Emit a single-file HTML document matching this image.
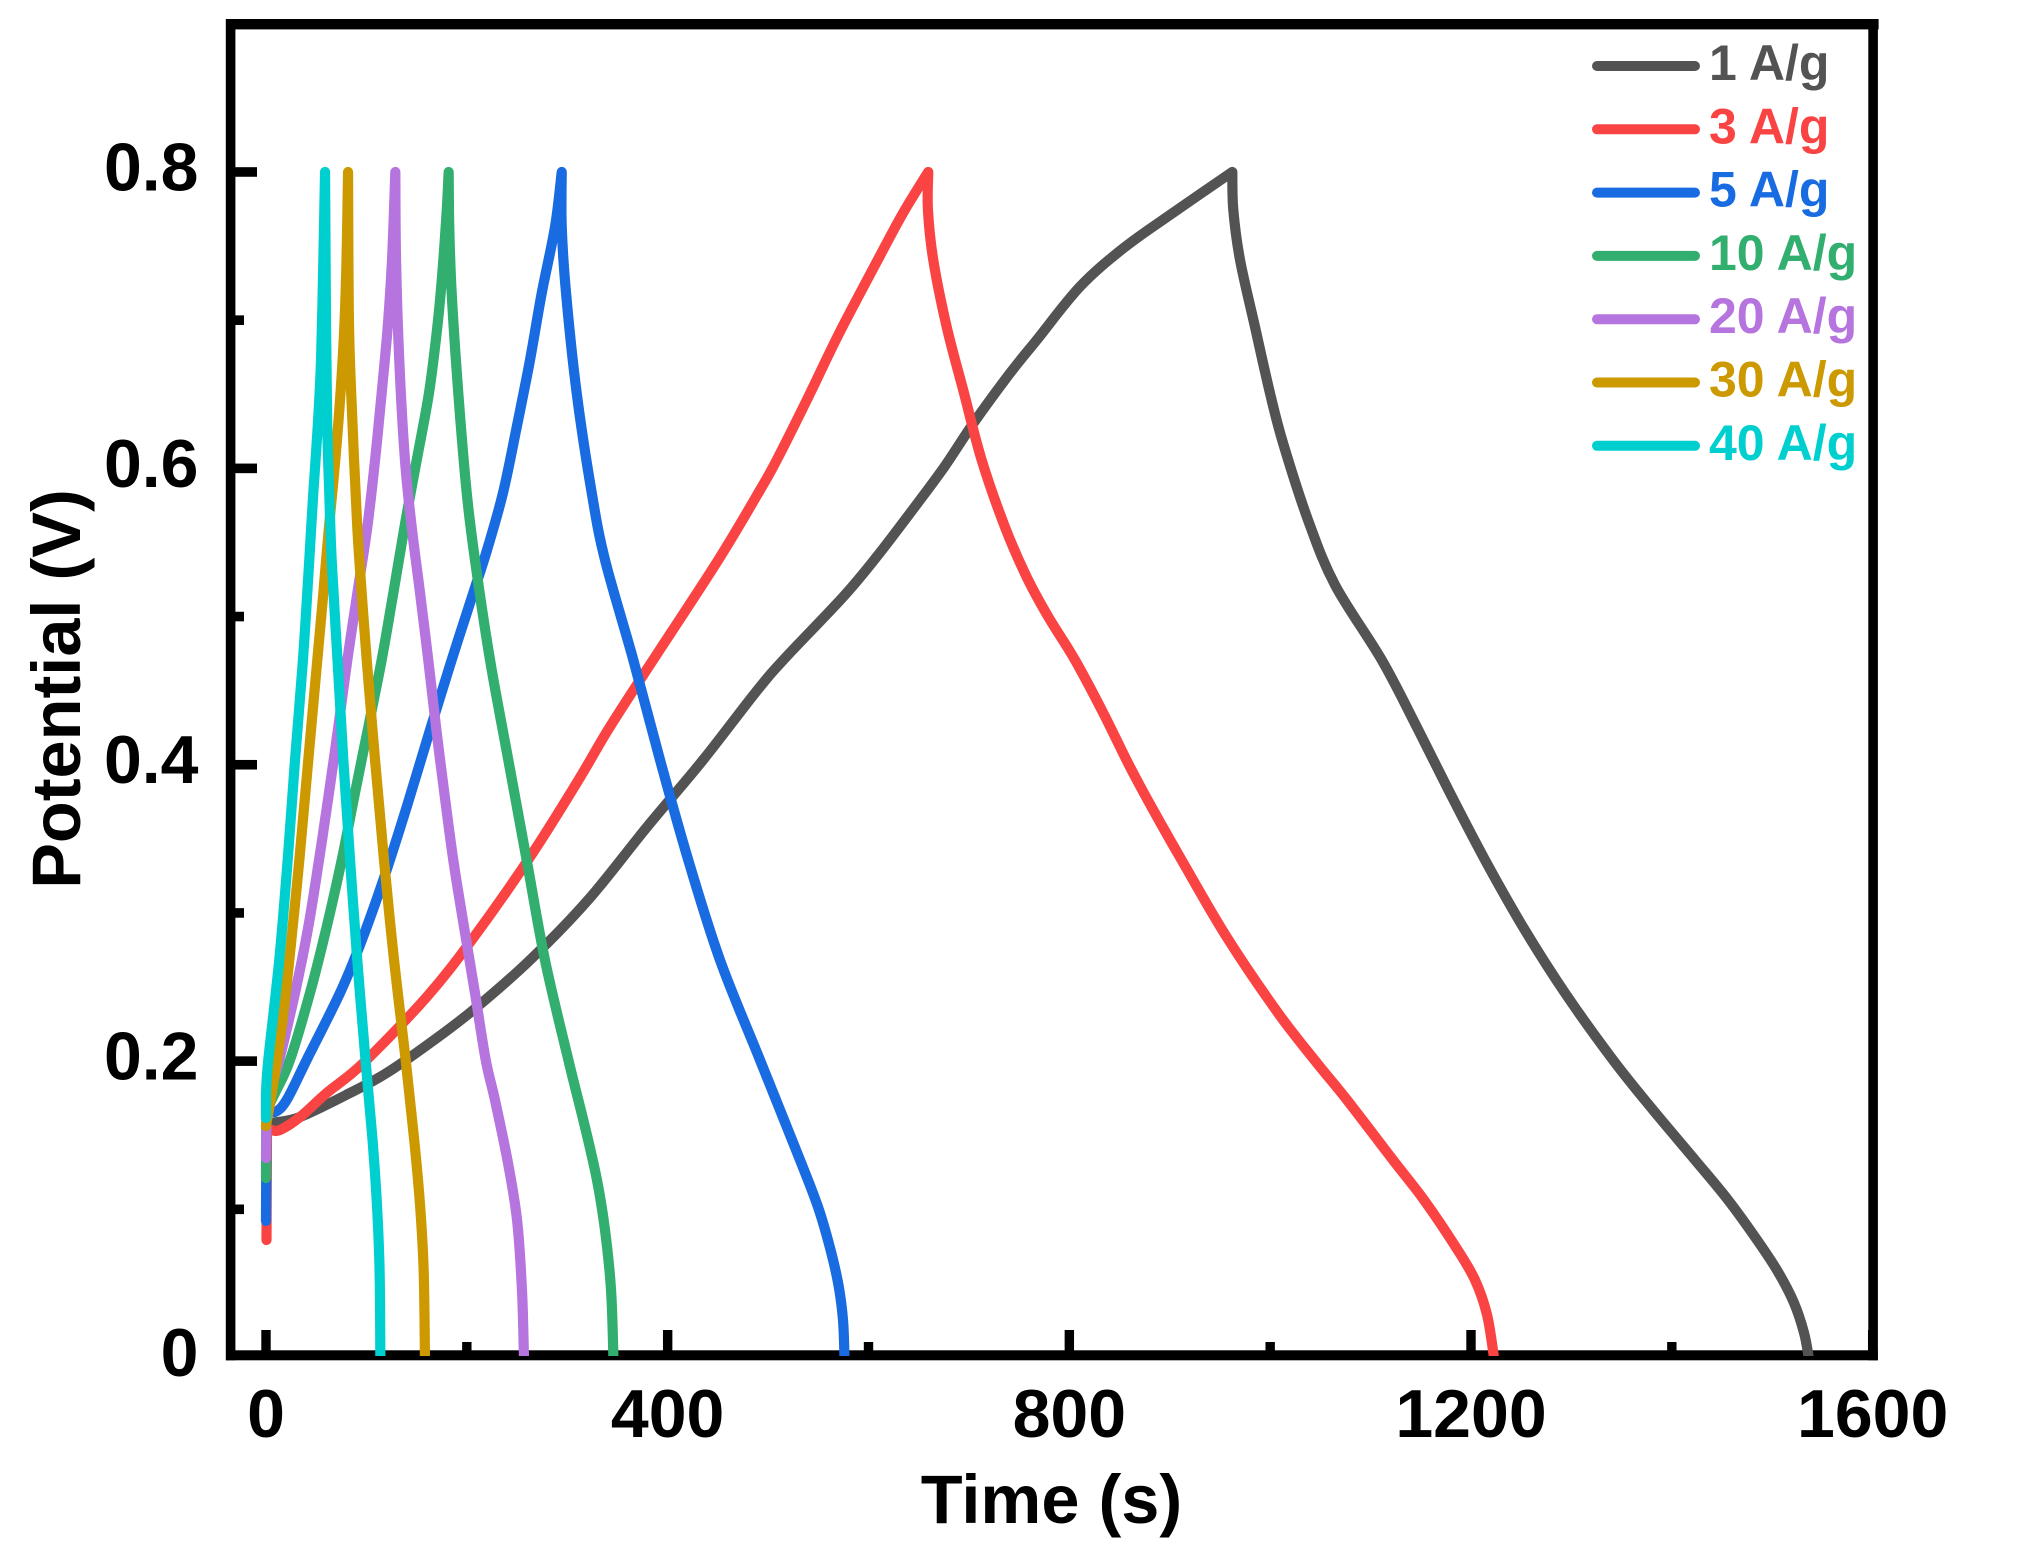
<!DOCTYPE html>
<html lang="en">
<head>
<meta charset="utf-8">
<title>Potential vs Time</title>
<style>
html,body{margin:0;padding:0;background:#fff;}
svg{display:block;}
text{font-family:"Liberation Sans",Arial,sans-serif;font-weight:bold;}
</style>
</head>
<body>
<svg id="chart" xmlns="http://www.w3.org/2000/svg" width="2040" height="1560" viewBox="0 0 2040 1560">
  <defs>
    <clipPath id="plot-clip"><rect x="0" y="0" width="2040" height="1356"/></clipPath>
  </defs>
  <rect x="0" y="0" width="2040" height="1560" fill="#fff"/>
  <g id="ticks"></g>
  <g id="frame" fill="#000">
    <rect x="226" y="19" width="1652.6" height="10.4"/>
    <rect x="226" y="1350.3" width="1651.8" height="10"/>
    <rect x="225.8" y="19" width="9.6" height="1341.3"/>
    <rect x="1868.3" y="19" width="9.6" height="1341.3"/>
  </g>
  <g id="tick-labels"></g>
  <text x="1051.5" y="1523" font-size="68.5" text-anchor="middle" fill="#000">Time (s)</text>
  <text transform="translate(80 689) rotate(-90)" font-size="68.5" text-anchor="middle" fill="#000">Potential (V)</text>
  <g id="series" clip-path="url(#plot-clip)"></g>
  <g id="legend"></g>
</svg>
<script>
// Axis data
const xMajorTicks = [0, 400, 800, 1200, 1600];
const xMinorTicks = [200, 600, 1000, 1400];
const xTickLabels = ["0", "400", "800", "1200", "1600"];
const yMajorTicks = [0.2, 0.4, 0.6, 0.8];
const yMinorTicks = [0.1, 0.3, 0.5, 0.7];
const yLabelValues = [0, 0.2, 0.4, 0.6, 0.8];
const yTickLabels = ["0", "0.2", "0.4", "0.6", "0.8"];

// Series names
const seriesNames = ["1 A/g", "3 A/g", "5 A/g", "10 A/g", "20 A/g", "30 A/g", "40 A/g"];

// 1 A/g
const time1 = [0,1,5.7,33.9,83.7,120.2,163.3,206.4,262.9,320.7,379.4,435.2,487,515.2,574.9,608.2,641.3,674.5,704.4,740.9,767.5,810.6,853.7,900.2,962.3,963.3,970,984.9,999.8,1012.8,1037.7,1064.6,1111.1,1146,1179.1,1214,1251.8,1293.6,1341.4,1381.3,1423.1,1456,1484.9,1505.8,1521.7,1531.7,1536.3];
const potential1 = [.1265,.1569,.1582,.1623,.1785,.192,.2122,.2345,.2682,.3087,.358,.4032,.4484,.4707,.5134,.5404,.5697,.6,.6304,.6642,.6866,.7226,.7485,.771,.8,.7743,.7406,.6954,.6508,.6171,.5651,.5213,.4707,.4255,.3809,.3357,.2905,.246,.2008,.167,.1333,.1063,.0793,.0577,.0368,.0165,0];

// 3 A/g
const time3 = [.5,1,5.7,13.9,33.9,60.4,96.9,160,206.4,262.9,309.4,339.3,369.2,387.4,450.4,492,508.6,540,569.9,606.5,634.4,659.5,659.2,664.5,677.9,695.1,712.7,735.9,757.5,779.1,805.6,833.8,860.4,883.6,913.5,956.7,1007.8,1046.6,1076.5,1122.3,1153.2,1184.8,1204,1216,1222.9];
const potential3 = [.0793,.1549,.1535,.1535,.1623,.1785,.1987,.2433,.2831,.3377,.3877,.4221,.4538,.4727,.5382,.5854,.6056,.6481,.69,.7372,.7723,.8,.7743,.7406,.6954,.6508,.6056,.5604,.5267,.4997,.4707,.4349,.3985,.3694,.3337,.2837,.2325,.1987,.1738,.1333,.1063,.0746,.0523,.0287,0];

// 5 A/g
const time5 = [0,.5,9,20.6,40.5,73.7,93.6,116.8,140.1,163.3,184.9,206.4,220.1,236,249.7,262.9,274.6,287.8,294.5,294.5,298.8,309.4,324.4,337.6,365.8,392.4,420.5,452.1,491.9,531.8,549.7,561.7,570.1,574.6,576.1];
const potential5 = [.0921,.1684,.1657,.1738,.2008,.246,.2784,.3222,.3715,.4234,.4707,.5159,.5449,.5834,.6279,.6731,.7183,.7629,.8,.7629,.7183,.6508,.5834,.5382,.4707,.4032,.3357,.2682,.2008,.1333,.1016,.0739,.0489,.0253,0];

// 10 A/g
const time10 = [0,.5,9,23.9,43.8,60.4,75.4,88.6,101.9,115.2,126.8,139.1,150.1,162.3,170.6,175.6,180,181.9,182.5,184.9,191.5,199.9,208.1,223.1,241.3,259.6,277.8,301.1,317.7,329.6,337.6,343.6,346];
const potential10 = [.1211,.167,.1785,.2008,.246,.2905,.3357,.3809,.4255,.4707,.5159,.5651,.6056,.6508,.6954,.7318,.7743,.8,.7629,.7183,.6508,.5834,.5382,.4707,.4032,.3357,.2682,.2008,.1555,.1198,.086,.0456,0];

// 20 A/g
const time20 = [0,.5,4,13.2,28.9,42.1,52.8,62.7,72,81,91,100.9,108.6,115.2,121.2,125.5,128.8,129.5,132.7,138.4,145.1,153.4,161.6,169.3,177.6,186.5,197.2,208.1,218.8,228,241,250,254.9,256.9];
const potential20 = [.1346,.1603,.1785,.2008,.246,.2905,.3357,.3809,.4255,.4707,.5159,.5604,.6056,.6508,.6954,.7406,.8,.7406,.6731,.6056,.5604,.5159,.4707,.4255,.3809,.3357,.2905,.246,.2008,.1738,.1312,.0928,.0456,0];

// 30 A/g
const time30 = [0,.2,5.7,15.6,23.2,33.2,42.1,51.1,57.1,62.7,69,74.2,78,80.2,81.7,82.7,86.3,90.9,95.3,100.3,108.6,117.5,127.5,139.1,147.6,153.4,157,158.3];
const potential30 = [.1562,.1575,.1785,.223,.2682,.3357,.4032,.4707,.5159,.5604,.6056,.6508,.6954,.7406,.8,.6954,.6279,.5604,.5159,.4707,.4032,.3357,.2682,.2008,.1468,.1029,.059,0];

// 40 A/g
const time40 = [0,0,2.3,13.2,21.6,28.9,36.8,43.1,47.1,51.5,54.8,57.1,58.8,59.8,61,63,65.4,71.2,77,83.7,90.9,99.1,106.1,110.5,113.1,113.9];
const potential40 = [.1616,.1785,.2008,.2682,.3357,.4032,.4707,.5382,.5834,.6279,.6731,.7406,.8,.6954,.6279,.5834,.5382,.4707,.4032,.3357,.2682,.2008,.1468,.1029,.059,0];

const allTimes = [time1, time3, time5, time10, time20, time30, time40];
const allPotentials = [potential1, potential3, potential5, potential10, potential20, potential30, potential40];

// Styling
const seriesColors = ["#535353", "#FA4444", "#186BE0", "#32AE6E", "#B574DE", "#CC9900", "#00CFD0"];

// Axis functions
function xScale(t) { return 266 + 1.00417 * t; }
function yScale(v) { return 1357.5 - 1481.9 * v; }

const NS = "http://www.w3.org/2000/svg";
function fmt(n) { return n.toFixed(2); }

function smoothSegment(pts) {
  let d = "";
  for (let i = 0; i < pts.length - 1; i++) {
    const p0 = pts[Math.max(i - 1, 0)];
    const p1 = pts[i];
    const p2 = pts[i + 1];
    const p3 = pts[Math.min(i + 2, pts.length - 1)];
    const c1x = p1[0] + (p2[0] - p0[0]) / 6;
    const c1y = p1[1] + (p2[1] - p0[1]) / 6;
    const c2x = p2[0] - (p3[0] - p1[0]) / 6;
    const c2y = p2[1] - (p3[1] - p1[1]) / 6;
    d += " C" + fmt(c1x) + " " + fmt(c1y) + " " + fmt(c2x) + " " + fmt(c2y) + " " + fmt(p2[0]) + " " + fmt(p2[1]);
  }
  return d;
}

function seriesPath(times, values) {
  const pts = times.map(function (t, i) { return [xScale(t), yScale(values[i])]; });
  let peak = 0;
  values.forEach(function (v, i) { if (v > values[peak]) { peak = i; } });
  let d = "M" + fmt(pts[0][0]) + " " + fmt(pts[0][1]);
  d += " L" + fmt(pts[1][0]) + " " + fmt(pts[1][1]);
  d += smoothSegment(pts.slice(1, peak + 1));
  d += smoothSegment(pts.slice(peak));
  return d;
}

const ticksGroup = document.getElementById("ticks");
const labelsGroup = document.getElementById("tick-labels");
const seriesGroup = document.getElementById("series");
const legendGroup = document.getElementById("legend");

function addRect(parent, x, y, w, h) {
  const r = document.createElementNS(NS, "rect");
  r.setAttribute("x", x);
  r.setAttribute("y", y);
  r.setAttribute("width", w);
  r.setAttribute("height", h);
  r.setAttribute("fill", "#000");
  parent.appendChild(r);
  return r;
}

xMajorTicks.forEach(function (t) {
  const el = addRect(ticksGroup, xScale(t) - 4.7, 1330, 9.4, 24);
  
  
});
xMinorTicks.forEach(function (t) {
  const el = addRect(ticksGroup, xScale(t) - 4.7, 1342, 9.4, 12);
  
  
});
yMajorTicks.forEach(function (v) {
  const el = addRect(ticksGroup, 232, yScale(v) - 4.8, 25, 9.6);
  
  
});
yMinorTicks.forEach(function (v) {
  const el = addRect(ticksGroup, 232, yScale(v) - 4.8, 12, 9.6);
  
  
});

xMajorTicks.forEach(function (t, i) {
  const el = document.createElementNS(NS, "text");
  
  
  el.setAttribute("x", xScale(t));
  el.setAttribute("y", 1437);
  el.setAttribute("font-size", 68);
  el.setAttribute("text-anchor", "middle");
  el.setAttribute("fill", "#000");
  el.textContent = xTickLabels[i];
  labelsGroup.appendChild(el);
});
yLabelValues.forEach(function (v, i) {
  const el = document.createElementNS(NS, "text");
  
  
  el.setAttribute("x", 198.5);
  el.setAttribute("y", yScale(v) + 18.5);
  el.setAttribute("font-size", 68);
  el.setAttribute("text-anchor", "end");
  el.setAttribute("fill", "#000");
  el.textContent = yTickLabels[i];
  labelsGroup.appendChild(el);
});

seriesNames.forEach(function (name, i) {
  const line = document.createElementNS(NS, "path");
  
  
  line.setAttribute("d", seriesPath(allTimes[i], allPotentials[i]));
  line.setAttribute("fill", "none");
  line.setAttribute("stroke", seriesColors[i]);
  line.setAttribute("stroke-width", 10.2);
  line.setAttribute("stroke-linecap", "round");
  line.setAttribute("stroke-linejoin", "round");
  seriesGroup.appendChild(line);

  const rowY = 66 + 63.3 * i;
  const swatch = document.createElementNS(NS, "line");
  
  
  swatch.setAttribute("x1", 1597);
  swatch.setAttribute("x2", 1695);
  swatch.setAttribute("y1", rowY);
  swatch.setAttribute("y2", rowY);
  swatch.setAttribute("stroke", seriesColors[i]);
  swatch.setAttribute("stroke-width", 10);
  swatch.setAttribute("stroke-linecap", "round");
  legendGroup.appendChild(swatch);

  const label = document.createElementNS(NS, "text");
  
  
  label.setAttribute("x", 1709);
  label.setAttribute("y", rowY + 14);
  label.setAttribute("font-size", 50);
  label.setAttribute("fill", seriesColors[i]);
  label.textContent = name;
  legendGroup.appendChild(label);
});
</script>
</body>
</html>
